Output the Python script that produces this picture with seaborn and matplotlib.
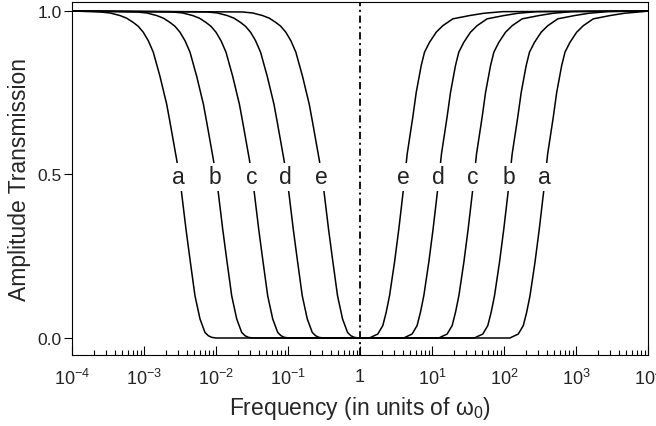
import numpy as np
import pandas as pd
import matplotlib
matplotlib.use("Agg")
import matplotlib.pyplot as plt
import seaborn as sns

# ---------------- data ----------------
curve_names = ["a", "b", "c", "d", "e"]
# log10 frequency of the falling (left) and rising (right) edge of each curve
left_edge_center = [-2.50, -1.99, -1.49, -1.01, -0.52]
right_edge_center = [2.569, 2.076, 1.581, 1.094, 0.618]

# shape of the falling edge: offset (decades) from edge centre, transmission
left_offset = [-1.111, -0.972, -0.833, -0.740, -0.649, -0.579, -0.510, -0.440,
               -0.371, -0.278, -0.185, -0.139, -0.046, 0.010, 0.083, 0.139,
               0.208, 0.278, 0.347, 0.393, 0.440, 0.500]
left_T = [0.997, 0.994, 0.986, 0.978, 0.965, 0.953, 0.935, 0.909,
          0.874, 0.800, 0.715, 0.660, 0.545, 0.466, 0.333, 0.240,
          0.129, 0.058, 0.017, 0.007, 0.002, 0.000]

# shape of the rising edge
right_offset = [-0.486, -0.440, -0.371, -0.301, -0.254, -0.208, -0.139, -0.079,
                -0.014, 0.0375, 0.115, 0.163, 0.232, 0.278, 0.347, 0.440,
                0.532, 0.671, 0.903, 1.100, 1.361]
right_T = [0.000, 0.005, 0.012, 0.038, 0.079, 0.129, 0.231, 0.333,
           0.456, 0.563, 0.675, 0.751, 0.833, 0.874, 0.904, 0.935,
           0.955, 0.976, 0.986, 0.993, 0.998]

freq_limits = [1e-4, 1e4]
far_T = 1.0
x_tick_values = [1e-4, 1e-3, 1e-2, 1e-1, 1, 1e1, 1e2, 1e3, 1e4]
x_tick_labels = ["10$^{-4}$", "10$^{-3}$", "10$^{-2}$", "10$^{-1}$", "1",
                 "10$^{1}$", "10$^{2}$", "10$^{3}$", "10$^{4}$"]
y_tick_values = [0.0, 0.5, 1.0]
y_tick_labels = ["0.0", "0.5", "1.0"]

# ---------------- build table ----------------
rows = []
for name, lc, rc in zip(curve_names, left_edge_center, right_edge_center):
    rows.append((name, freq_limits[0], far_T))
    for d, t in zip(left_offset, left_T):
        rows.append((name, 10 ** (lc + d), t))
    for d, t in zip(right_offset, right_T):
        rows.append((name, 10 ** (rc + d), t))
    rows.append((name, freq_limits[1], far_T))
df = pd.DataFrame(rows, columns=["curve", "freq", "T"])

# ---------------- style ----------------
sns.set_style("ticks")
plt.rcParams.update({
    "font.family": ["Liberation Sans", "DejaVu Sans"],
    "mathtext.fontset": "custom",
    "mathtext.rm": "Liberation Sans",
    "mathtext.it": "Liberation Sans:italic",
    "mathtext.bf": "Liberation Sans:bold",
    "mathtext.default": "regular",
    "axes.edgecolor": "black",
    "axes.linewidth": 0.8,
    "text.color": "#222222",
    "xtick.color": "black",
    "ytick.color": "black",
    "xtick.labelcolor": "#222222",
    "ytick.labelcolor": "#222222",
})

fig = plt.figure(figsize=(6.56, 4.27), dpi=100)
ax = fig.add_axes([72 / 656, 1 - 356 / 427, 576 / 656, 353 / 427])

sns.lineplot(data=df, x="freq", y="T", hue="curve", palette=["black"] * 5,
             estimator=None, sort=False, legend=False, linewidth=1.1, ax=ax)

ax.axvline(1, color="black", linewidth=1.3, linestyle=(0, (4, 2, 1.2, 2)))

ax.set_xscale("log")
ax.set_xlim(*freq_limits)
ax.set_ylim(-0.052, 1.0275)

ax.set_xticks(x_tick_values)
ax.set_xticklabels(x_tick_labels)
ax.xaxis.set_minor_locator(matplotlib.ticker.LogLocator(base=10, subs=np.arange(2, 10), numticks=20))
ax.xaxis.set_minor_formatter(matplotlib.ticker.NullFormatter())
ax.set_yticks(y_tick_values)
ax.set_yticklabels(y_tick_labels)

ax.tick_params(axis="x", which="major", direction="in", length=6.5, width=0.8,
               labelsize=13, pad=9)
ax.tick_params(axis="x", which="minor", direction="in", length=3.3, width=0.8)
ax.tick_params(axis="y", which="major", direction="out", length=5.5, width=0.8,
               labelsize=12.5, pad=2)
ax.tick_params(axis="y", which="minor", left=False)

for s in ["top", "right", "left", "bottom"]:
    ax.spines[s].set_visible(True)
    ax.spines[s].set_color("black")

ax.set_xlabel("Frequency (in units of ω$_{0}$)", fontsize=16.5)
ax.set_ylabel("Amplitude Transmission", fontsize=16.5)
ax.xaxis.set_label_coords(0.5, -0.11)
ax.yaxis.set_label_coords(-0.072, 0.5)

for name, lc, rc in zip(curve_names, left_edge_center, right_edge_center):
    for c in (lc - 0.02, rc - 0.01):
        ax.text(10 ** c, 0.5, name, ha="center", va="center_baseline", fontsize=16.5,
                color="#222222",
                bbox=dict(boxstyle="square,pad=0.12", fc="white", ec="none"))

fig.savefig("out.png", dpi=100)
